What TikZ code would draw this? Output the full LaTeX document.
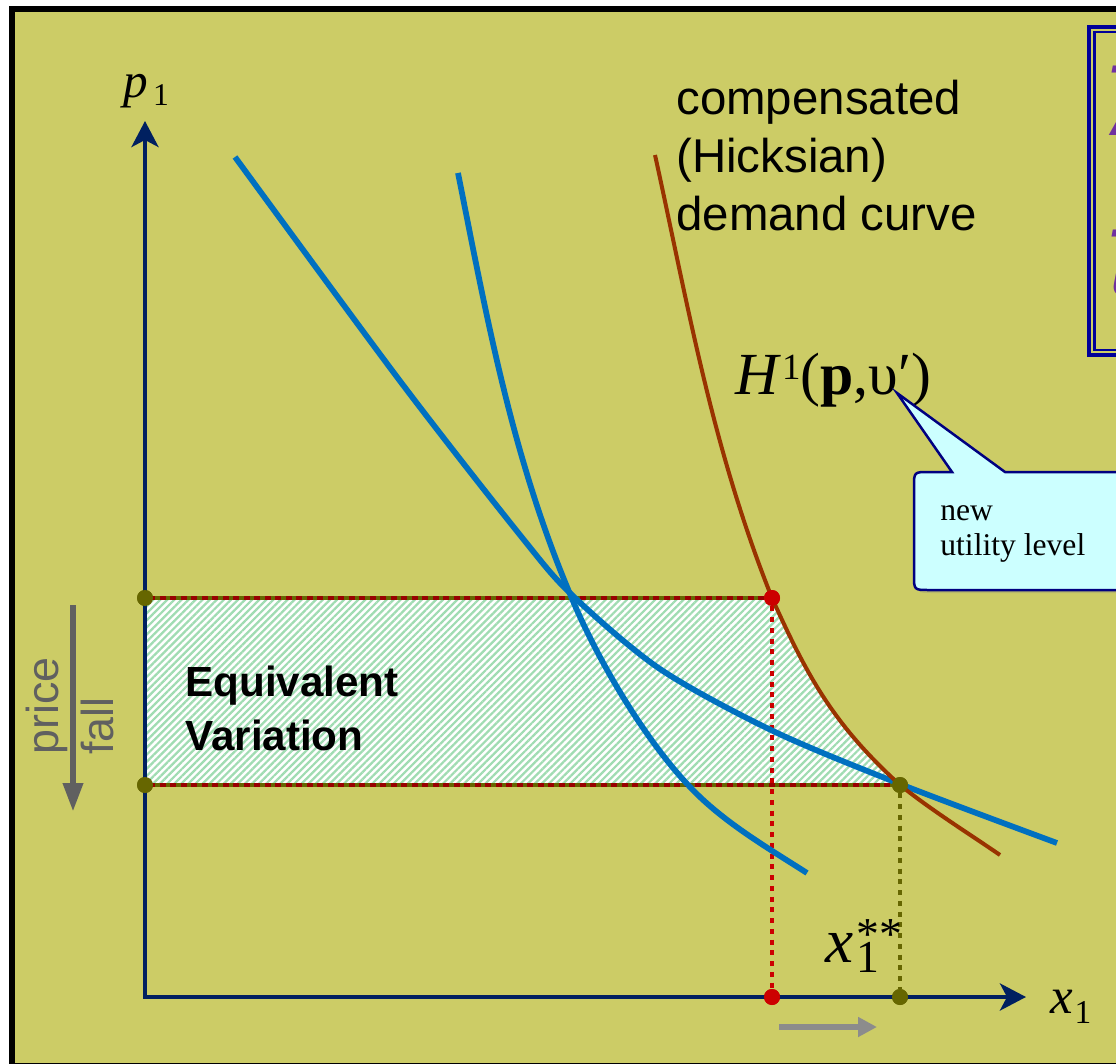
\documentclass[tikz,border=0pt]{standalone}
\usepackage{fontspec}
\setmainfont{Liberation Serif}
\newfontfamily\arialfont{Liberation Sans}
\usetikzlibrary{arrows.meta,patterns.meta,shadows}
\definecolor{slidebg}{RGB}{204,204,102}
\definecolor{axisnavy}{RGB}{0,32,96}
\definecolor{curveblue}{RGB}{0,112,192}
\definecolor{hicksbrown}{RGB}{153,51,0}
\definecolor{dotolive}{RGB}{102,102,0}
\definecolor{dotred}{RGB}{204,0,0}
\definecolor{edgered}{RGB}{153,0,0}
\definecolor{hatchgreen}{RGB}{160,220,178}
\definecolor{calloutfill}{RGB}{204,255,255}
\definecolor{calloutnavy}{RGB}{0,0,128}
\definecolor{boxnavy}{RGB}{0,0,153}
\definecolor{notepurple}{RGB}{112,48,160}
\definecolor{pricegray}{RGB}{96,96,96}
\definecolor{shiftgray}{RGB}{140,140,140}

\begin{document}
\begin{tikzpicture}[x=0.02cm,y=-0.02cm,line join=miter,
  axisline/.style={draw=axisnavy,line width=0.085cm},
  bluecurve/.style={draw=curveblue,line width=0.115cm},
  hickscurve/.style={draw=hicksbrown,line width=0.08cm},
  ptdot/.style={circle,fill=#1,inner sep=0pt,minimum size=0.32cm},
  dropline/.style={draw=#1,line width=0.095cm,dash pattern=on 0.1cm off 0.115cm},
  evedge/.style={draw=edgered,line width=0.075cm},
  evdash/.style={draw=dotolive,line width=0.075cm,dash pattern=on 0.09cm off 0.12cm},
  label/.style={inner sep=0pt,anchor=base west},
  notefrag/.style={inner sep=0pt,anchor=north west,text=notepurple,font=\arialfont\bfseries\itshape\fontsize{36}{36}\selectfont}]
\useasboundingbox (0,0) rectangle (1116,1064);
\clip (0,0) rectangle (1116,1064);
\fill[white] (0,0) rectangle (1116,1064);
\draw[line width=0.12cm,fill=slidebg] (12,9) rectangle (1130,1066);

% note box at the top right, cut by the edge
\draw[boxnavy,line width=0.066cm] (1089,27) rectangle (1140,355);
\draw[boxnavy,line width=0.054cm] (1094.5,32) rectangle (1140,350);
\node[notefrag] (notea) at (1107,66) {T};
\node[notefrag] (noteb) at (1110,92) {A};
\node[notefrag] (notec) at (1107,230) {T};
\node[notefrag] (noted) at (1111,262) {u};

% points
\coordinate (origin) at (145,997);
\coordinate (ytip) at (145,121);
\coordinate (xtip) at (1026,997);
\node[ptdot=dotolive] (lefttop) at (145,598) {};
\node[ptdot=dotolive] (leftbot) at (145,785) {};
\node[ptdot=dotred] (redtop) at (772,598) {};
\node[ptdot=dotolive] (olivemid) at (900,785) {};
\node[ptdot=dotred] (redaxis) at (772,997) {};
\node[ptdot=dotolive] (oliveaxis) at (900,997) {};

% equivalent variation area
\fill[white] (lefttop.center) -- (redtop.center) .. controls (808,678) and (834,725) .. (olivemid.center) -- (leftbot.center) -- cycle;
\fill[pattern={Lines[angle=45,distance=0.1cm,line width=0.045cm]},pattern color=hatchgreen]
  (lefttop.center) -- (redtop.center) .. controls (808,678) and (834,725) .. (olivemid.center) -- (leftbot.center) -- cycle;
\draw[evedge] (leftbot.center) -- (lefttop.center) -- (redtop.center);
\draw[evedge] (leftbot.center) -- (olivemid.center);
\draw[evdash] (lefttop.center) -- (redtop.center);
\draw[evdash] (leftbot.center) -- (olivemid.center);

\draw[dropline=dotred] (redtop) -- (redaxis);
\draw[dropline=dotolive] (olivemid) -- (oliveaxis);

% demand curves
\draw[bluecurve] plot[smooth] coordinates {(235,157) (400,381) (520,535) (572,595) (660,669) (773,731) (900,784) (1057,843)};
\draw[bluecurve] (458,173) .. controls (486,313) and (511,454) .. (570,594)
  .. controls (599,664) and (647,742) .. (690,787)
  .. controls (723,822) and (768,848) .. (807,873);
\draw[hickscurve] (655,155) .. controls (688,305) and (712,448) .. (redtop.center)
  .. controls (808,678) and (834,725) .. (olivemid.center)
  .. controls (931,810) and (971,835) .. (1000,855);

% axes
\draw[axisline,{Stealth[length=0.52cm,width=0.54cm,inset=0.14cm]}-{Stealth[length=0.52cm,width=0.54cm,inset=0.14cm]}]
  (ytip) -- (origin) -- (xtip);

\node[ptdot=dotolive] at (lefttop) {};
\node[ptdot=dotolive] at (leftbot) {};
\node[ptdot=dotred] at (redtop) {};
\node[ptdot=dotolive] at (olivemid) {};
\node[ptdot=dotred] at (redaxis) {};
\node[ptdot=dotolive] at (oliveaxis) {};

% price fall and the shift of x1
\coordinate (fallstart) at (73,605);
\coordinate (fallend) at (73,812);
\draw[pricegray,line width=0.13cm,-{Triangle[length=0.58cm,width=0.38cm]}] (fallstart) -- (fallend);
\coordinate (shiftstart) at (779,1027);
\coordinate (shiftend) at (877,1027);
\draw[shiftgray,line width=0.12cm,-{Triangle[length=0.38cm,width=0.38cm]}] (shiftstart) -- (shiftend);
\node[anchor=north west,inner sep=0pt,align=left,rotate=90,text=pricegray,
  font=\arialfont\fontsize{25.5}{31}\selectfont] (falllab) at (26,755) {price\\fall};

% labels
\node[label,font=\fontsize{28}{30}\selectfont] (p1lab) at (123,98)
  {\textit{p}\kern3pt\raisebox{-4.5pt}{\fontsize{18}{18}\selectfont 1}};
\node[label,font=\fontsize{29}{30}\selectfont] (x1lab) at (1050,1013)
  {\textit{x}\kern1pt\raisebox{-5.7pt}{\fontsize{19}{19}\selectfont 1}};
\node[label,font=\fontsize{36}{40}\selectfont] (xsslab) at (825,962)
  {\textit{x}\kern2pt\rlap{\raisebox{-6pt}{\fontsize{26}{26}\selectfont 1}}\raisebox{7pt}{\fontsize{26}{26}\selectfont **}};
\node[anchor=north west,inner sep=0pt,align=left,font=\arialfont\fontsize{27}{33}\selectfont] (hickslab) at (676,80)
  {compensated\\(Hicksian)\\demand curve};
\node[anchor=north west,inner sep=0pt,align=left,font=\arialfont\bfseries\fontsize{24}{30.5}\selectfont] (evlab) at (185,666)
  {Equivalent\\Variation};
\node[label,font=\fontsize{34}{38}\selectfont] (hicks) at (735,394)
  {\textit{H}\kern0.5pt\raisebox{8.3pt}{\fontsize{21}{21}\selectfont 1}(\textbf{p},υ\char"2032)};

% callout
\coordinate (upsnib) at (897,393);
\draw[draw=calloutnavy,line width=0.05cm,fill=calloutfill,
  drop shadow={opacity=0.25,shadow xshift=0.06cm,shadow yshift=-0.06cm}]
  (upsnib) -- (1005,472) -- (1140,472) -- (1140,590) -- (929,590) .. controls (914,590) .. (914,575)
  -- (914,487) .. controls (914,472) .. (929,472) -- (952,472) -- cycle;
\node[anchor=north west,inner sep=0pt,align=left,font=\fontsize{18}{20}\selectfont] (utiltext) at (940,505)
  {new\\utility level};
\end{tikzpicture}
\end{document}
